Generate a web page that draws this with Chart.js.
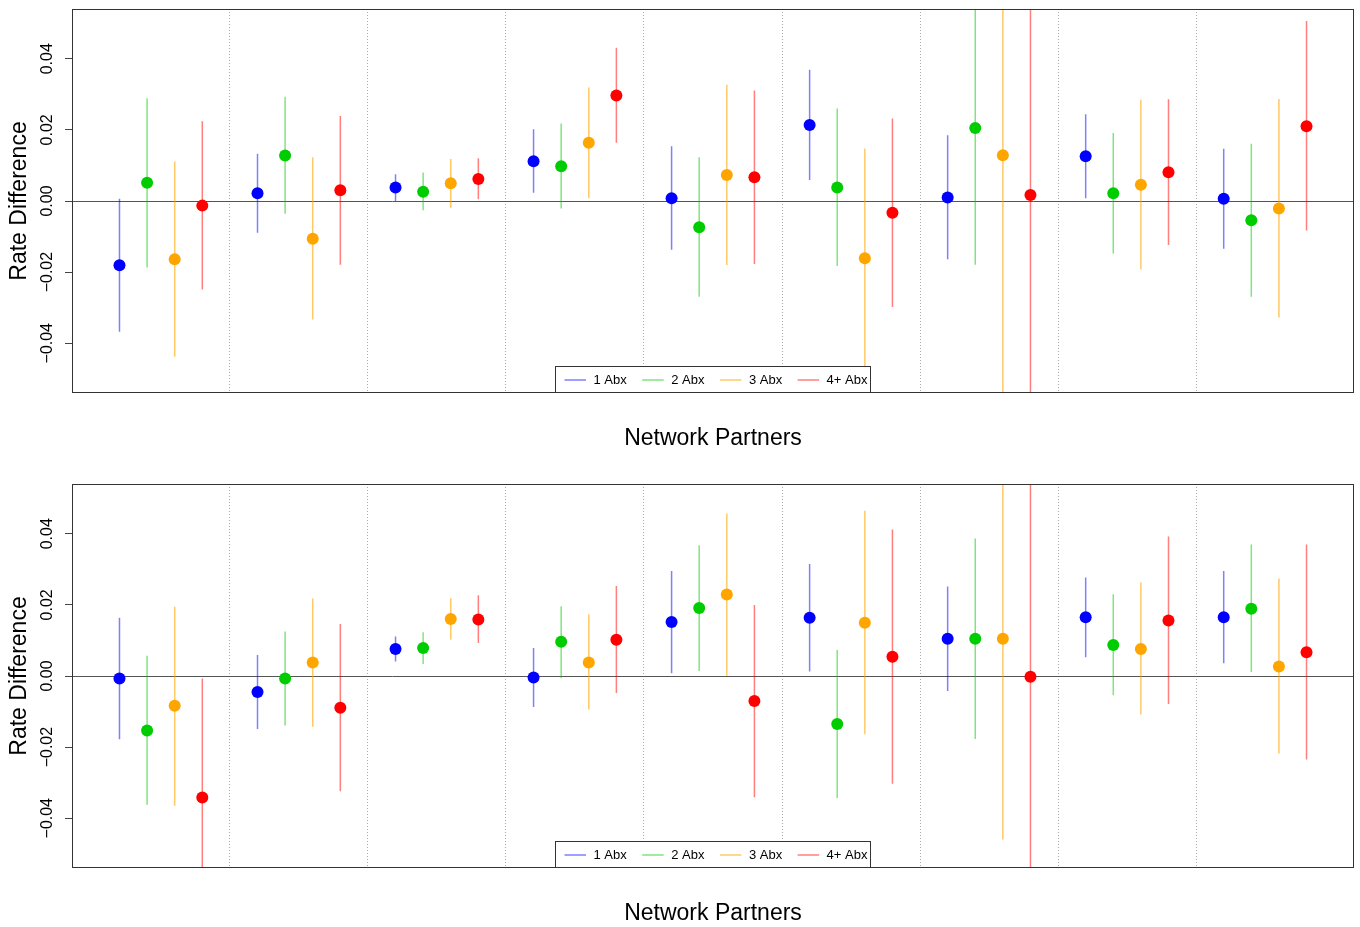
<!DOCTYPE html>
<html>
<head>
<meta charset="utf-8">
<script src="https://cdn.jsdelivr.net/npm/chart.js@4/dist/chart.umd.min.js"></script>
<style>
  html, body { margin: 0; padding: 0; background: #fff; overflow: hidden; }
  .panel { position: absolute; left: 0; width: 1360px; }
  #panel1 { top: 0; height: 475px; }
  #panel2 { top: 475px; height: 452px; }
</style>
</head>
<body>
<div class="panel" id="panel1"><canvas id="chart1"></canvas></div>
<div class="panel" id="panel2"><canvas id="chart2"></canvas></div>
<script>
// 9 network-partner groups, 4 antibiotic series each
const partners = ["1", "2", "3", "4", "5", "6", "7", "8", "9"];
const seriesNames = ["1 Abx", "2 Abx", "3 Abx", "4+ Abx"];
const yTicks = [-0.04, -0.02, 0, 0.02, 0.04];

// top panel
const top1 = [-0.0181, 0.0022, 0.0038, 0.0112, 0.0008, 0.0214, 0.0010, 0.0126, 0.0006];
const top1Lo = [-0.0368, -0.0089, 0.0000, 0.0023, -0.0137, 0.0059, -0.0164, 0.0008, -0.0134];
const top1Hi = [0.0006, 0.0133, 0.0075, 0.0202, 0.0154, 0.0369, 0.0185, 0.0244, 0.0147];
const top2 = [0.0051, 0.0128, 0.0026, 0.0098, -0.0074, 0.0038, 0.0205, 0.0022, -0.0054];
const top2Lo = [-0.0187, -0.0036, -0.0026, -0.0021, -0.0269, -0.0183, -0.0179, -0.0148, -0.0269];
const top2Hi = [0.0289, 0.0293, 0.0080, 0.0218, 0.0123, 0.0260, 0.0700, 0.0191, 0.0161];
const top3 = [-0.0164, -0.0106, 0.0050, 0.0164, 0.0073, -0.0161, 0.0129, 0.0046, -0.0021];
const top3Lo = [-0.0438, -0.0333, -0.0019, 0.0008, -0.0180, -0.0500, -0.0700, -0.0192, -0.0328];
const top3Hi = [0.0111, 0.0123, 0.0118, 0.0319, 0.0327, 0.0148, 0.0700, 0.0285, 0.0287];
const top4 = [-0.0013, 0.0030, 0.0062, 0.0297, 0.0067, -0.0033, 0.0017, 0.0081, 0.0210];
const top4Lo = [-0.0249, -0.0179, 0.0005, 0.0164, -0.0177, -0.0298, -0.0750, -0.0124, -0.0083];
const top4Hi = [0.0224, 0.0239, 0.0120, 0.0431, 0.0311, 0.0232, 0.0800, 0.0286, 0.0506];

// bottom panel
const bot1 = [-0.0007, -0.0045, 0.0076, -0.0004, 0.0152, 0.0164, 0.0105, 0.0165, 0.0165];
const bot1Lo = [-0.0178, -0.0149, 0.0041, -0.0087, 0.0008, 0.0013, -0.0042, 0.0053, 0.0036];
const bot1Hi = [0.0164, 0.0059, 0.0111, 0.0079, 0.0295, 0.0315, 0.0252, 0.0277, 0.0295];
const bot2 = [-0.0153, -0.0007, 0.0079, 0.0096, 0.0191, -0.0135, 0.0105, 0.0087, 0.0189];
const bot2Lo = [-0.0362, -0.0139, 0.0034, -0.0006, 0.0014, -0.0343, -0.0177, -0.0054, 0.0011];
const bot2Hi = [0.0057, 0.0125, 0.0123, 0.0196, 0.0368, 0.0073, 0.0387, 0.0230, 0.0370];
const bot3 = [-0.0084, 0.0038, 0.0160, 0.0038, 0.0229, 0.0150, 0.0105, 0.0076, 0.0027];
const bot3Lo = [-0.0365, -0.0143, 0.0102, -0.0094, 0.0001, -0.0164, -0.0460, -0.0108, -0.0218];
const bot3Hi = [0.0195, 0.0218, 0.0219, 0.0174, 0.0457, 0.0465, 0.0700, 0.0263, 0.0274];
const bot4 = [-0.0342, -0.0089, 0.0159, 0.0102, -0.0070, 0.0054, -0.0002, 0.0156, 0.0067];
const bot4Lo = [-0.0700, -0.0324, 0.0093, -0.0048, -0.0341, -0.0303, -0.0750, -0.0079, -0.0235];
const bot4Hi = [-0.0007, 0.0146, 0.0227, 0.0253, 0.0200, 0.0412, 0.0800, 0.0392, 0.0370];

const pointColors = ["#0000FF", "#00CD00", "#FFA500", "#FF0000"];
const barColors = ["rgba(0,0,255,0.5)", "rgba(0,205,0,0.5)", "rgba(255,165,0,0.6)", "rgba(255,0,0,0.5)"];
const FONT = "'Liberation Sans', Arial, Helvetica, sans-serif";

Chart.defaults.font.family = FONT;
Chart.defaults.color = "#000";

// x position of series j in group g (one empty slot between groups)
const xOf = (g, j) => g * 5 + j + 1;

const fmtTick = (v) => (v < 0 ? "\u2212" : "") + Math.abs(v).toFixed(2);

function buildDatasets(est, lo, hi) {
  const points = seriesNames.map((name, j) => ({
    label: name,
    data: partners.map((p, g) => ({ x: xOf(g, j), y: est[j][g] })),
    backgroundColor: pointColors[j],
    borderWidth: 0,
    pointRadius: 6,
    order: 0,
  }));
  const bars = seriesNames.map((name, j) => ({
    label: name + " CI",
    data: partners.flatMap((p, g) => [
      { x: xOf(g, j), y: lo[j][g] },
      { x: xOf(g, j), y: hi[j][g] },
      { x: xOf(g, j), y: null },
    ]),
    showLine: true,
    spanGaps: false,
    borderColor: barColors[j],
    borderWidth: 1.5,
    pointRadius: 0,
    order: 1,
  }));
  return points.concat(bars);
}

const boxPlugin = {
  id: "plotBox",
  afterDatasetsDraw(chart) {
    const { ctx, chartArea: a } = chart;
    ctx.save();
    ctx.strokeStyle = "#333";
    ctx.lineWidth = 1;
    ctx.strokeRect(a.left + 0.5, a.top + 0.5, a.right - a.left - 1, a.bottom - a.top - 1);
    ctx.restore();
  },
};

const legendPlugin = {
  id: "boxLegend",
  afterDraw(chart) {
    const { ctx, chartArea: a } = chart;
    const w = 316, h = 27;
    const left = Math.round((a.left + a.right) / 2 - w / 2);
    const top = Math.round(a.bottom - h);
    ctx.save();
    ctx.fillStyle = "#fff";
    ctx.fillRect(left, top, w, h);
    ctx.strokeStyle = "#333";
    ctx.lineWidth = 1;
    ctx.strokeRect(left + 0.5, top + 0.5, w - 1, h - 1);
    ctx.font = "13px " + FONT;
    ctx.textBaseline = "middle";
    ctx.fillStyle = "#000";
    const cy = top + 14;
    seriesNames.forEach((name, j) => {
      const x0 = left + 9.5 + j * 77.7;
      ctx.strokeStyle = barColors[j];
      ctx.lineWidth = 1.5;
      ctx.beginPath();
      ctx.moveTo(x0, cy);
      ctx.lineTo(x0 + 21.5, cy);
      ctx.stroke();
      ctx.fillText(name, x0 + 29, cy);
    });
    ctx.restore();
  },
};

function makeChart(id, datasets, height) {
  const ctx = document.getElementById(id).getContext("2d");
  return new Chart(ctx, {
    type: "scatter",
    data: { datasets: datasets },
    plugins: [boxPlugin, legendPlugin],
    options: {
      responsive: true,
      maintainAspectRatio: false,
      animation: false,
      events: [],
      layout: { padding: { top: 9, right: 6, left: 0, bottom: 0 } },
      plugins: {
        legend: { display: false },
        tooltip: { enabled: false },
      },
      scales: {
        x: {
          type: "linear",
          min: -0.72,
          max: 45.72,
          afterBuildTicks: (s) => {
            s.ticks = partners.slice(1).map((p, i) => ({ value: (i + 1) * 5 }));
          },
          afterFit: (s) => {
            s.height = height - 393;
            s.paddingLeft = 0;
            s.paddingRight = 0;
          },
          grid: { color: "#aaa", lineWidth: 1, drawTicks: false },
          border: { display: false, dash: [1, 2] },
          ticks: { display: false },
          title: {
            display: true,
            text: "Network Partners",
            font: { size: 23 },
            padding: { top: 0, bottom: height - 439 - 13.8 },
          },
        },
        y: {
          min: -0.054,
          max: 0.054,
          afterBuildTicks: (s) => {
            s.ticks = yTicks.map((v) => ({ value: v }));
          },
          afterFit: (s) => {
            s.width = 72;
            s.paddingTop = 0;
            s.paddingBottom = 0;
          },
          grid: {
            color: (c) => (c.tick && c.tick.value === 0 ? "#555" : "rgba(0,0,0,0)"),
            tickColor: "#444",
            tickLength: 7,
            lineWidth: 1,
          },
          border: { display: false },
          ticks: {
            minRotation: 90,
            maxRotation: 90,
            crossAlign: "center",
            padding: -3,
            font: { size: 16 },
            color: "#000",
            callback: (v) => fmtTick(v),
          },
          title: {
            display: true,
            text: "Rate Difference",
            font: { size: 23 },
            padding: { top: 6, bottom: 0 },
          },
        },
      },
    },
  });
}

makeChart("chart1", buildDatasets([top1, top2, top3, top4], [top1Lo, top2Lo, top3Lo, top4Lo], [top1Hi, top2Hi, top3Hi, top4Hi]), 475);
makeChart("chart2", buildDatasets([bot1, bot2, bot3, bot4], [bot1Lo, bot2Lo, bot3Lo, bot4Lo], [bot1Hi, bot2Hi, bot3Hi, bot4Hi]), 452);
</script>
</body>
</html>
